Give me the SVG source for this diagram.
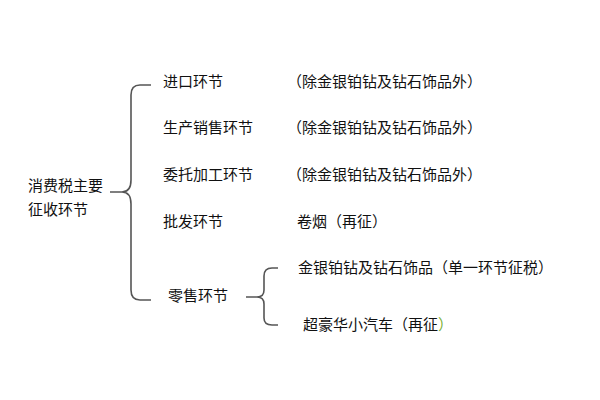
<svg xmlns="http://www.w3.org/2000/svg" width="600" height="400" viewBox="0 0 600 400">
<style>
text{font-family:"Noto Sans CJK SC","Liberation Sans",sans-serif;font-size:15px;fill:#111}
.b{fill:none;stroke:#555;stroke-width:1.6}
</style>
<rect width="600" height="400" fill="#fff"/>
<g id="connectors">
<path class="b" d="M151,85 H140 Q131,85 131,95 V180 Q131,192 122,192 H110 M122,192 Q131,192 131,204 V290 Q131,300 140,300 H151"/>
<path class="b" d="M278,268 H272 Q264,268 264,276 V290 Q264,297 257,297 H246 M257,297 Q264,297 264,304 V318 Q264,325 272,325 H278"/>
</g>
<g id="root"><text x="28" y="191">消费税主要</text><text x="28" y="215">征收环节</text></g>
<g id="n1"><text x="163" y="87">进口环节</text><text x="287" y="87">（除金银铂钻及钻石饰品外）</text></g>
<g id="n2"><text x="163" y="133">生产销售环节</text><text x="287" y="133">（除金银铂钻及钻石饰品外）</text></g>
<g id="n3"><text x="163" y="180">委托加工环节</text><text x="287" y="180">（除金银铂钻及钻石饰品外）</text></g>
<g id="n4"><text x="163" y="227">批发环节</text><text x="297" y="227">卷烟（再征）</text></g>
<g id="n5"><text x="168" y="301">零售环节</text></g>
<g id="n6"><text x="298" y="273">金银铂钻及钻石饰品（单一环节征税）</text></g>
<g id="n7"><text x="303" y="330">超豪华小汽车（再征<tspan style="fill:#7ab030">）</tspan></text></g>
</svg>
